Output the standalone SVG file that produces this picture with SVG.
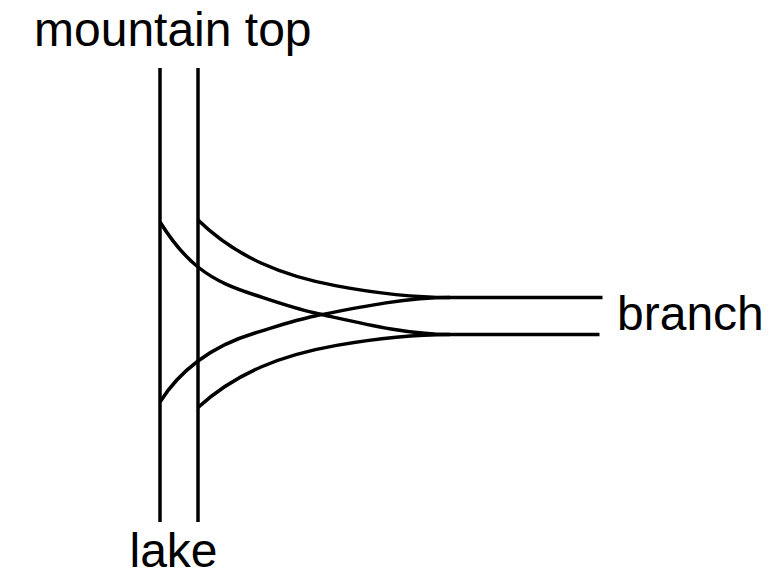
<svg xmlns="http://www.w3.org/2000/svg" width="772" height="584" viewBox="0 0 772 584">
<style>
.ln{fill:none;stroke:#000;stroke-width:3.5;stroke-linecap:butt}
.lbl{font-family:"Liberation Sans",Arial,sans-serif;font-size:48px;fill:#000}
</style>
<rect width="772" height="584" fill="#fff"/>
<g id="connectors">
<path class="ln" d="M160,68 L160,522"/>
<path class="ln" d="M198,68 L198,522"/>
<path class="ln" d="M450,297.5 L602.5,297.5"/>
<path class="ln" d="M450,334.5 L599.5,334.5"/>
<path class="ln" d="M198,220 C219,240.4 240,253.4 261,263 C286.2,274.6 311.4,281.2 336.6,285.9 C374.4,293 412.2,297.5 450,297.5"/>
<path class="ln" d="M160,222 C172.67,242.3 185.33,256.9 198,267 C217,282.2 236,288.7 255,295 C275,301.6 295,308.6 315,313 C360,322.9 405,334.5 450,334.5"/>
<path class="ln" d="M160,402 C172.67,381.7 185.33,370.5 198,361 C217,346.75 236,338.7 255,333 C275,327 295,320 315,316 C360,307 405,297.5 450,297.5"/>
<path class="ln" d="M198,407.5 C219,388.3 240,376.1 261,367 C286.2,356.1 311.4,349.8 336.6,345.4 C374.4,338.8 412.2,334.5 450,334.5"/>
</g>
<g id="node-mountain-top"><text class="lbl" x="34" y="46">mountain top</text></g>
<g id="node-lake"><text class="lbl" x="129.5" y="566.7">lake</text></g>
<g id="node-branch"><text class="lbl" x="617" y="330">branch</text></g>
</svg>
